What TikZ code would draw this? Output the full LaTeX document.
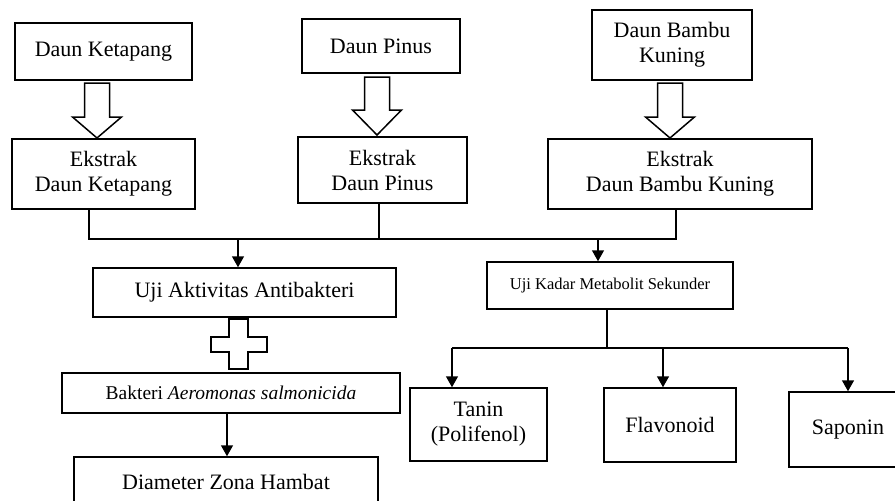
\documentclass[tikz,border=0pt]{standalone}
\usepackage{fontspec}
\setmainfont{Liberation Serif}
\usetikzlibrary{arrows.meta,positioning,calc}

% panah blok berongga: x tengah, y atas, y awal kepala, y ujung
\newcommand\blokpanah[4]{%
  \draw[blok] (#1-12.5,#2) -- (#1+12.5,#2) -- (#1+12.5,#3) -- (#1+24.5,#3)
    -- (#1,#4) -- (#1-24.5,#3) -- (#1-12.5,#3) -- cycle;}

\begin{document}
\begin{tikzpicture}[x=1pt,y=-1pt,
    kotak/.style={draw,line width=1.5pt,align=center,inner sep=0pt,
      font=\fontsize{22}{25}\selectfont},
    garis/.style={line width=1.5pt},
    panah/.style={line width=1.5pt,-{Triangle[length=11pt,width=12pt]}},
    blok/.style={line width=1.5pt,line join=miter,fill=white}]
                \useasboundingbox (0,0) rectangle (895,501);
                % bahan
                \node[kotak,minimum width=177pt,minimum height=57pt] (ketapang) at (103.5,51.5) {Daun Ketapang};
                \node[kotak,minimum width=158pt,minimum height=54pt] (pinus) at (381,46) {Daun Pinus};
                \node[kotak,minimum width=160pt,minimum height=70pt] (bambu) at (672,45) {Daun Bambu\\Kuning};
                % ekstrak
                \node[kotak,minimum width=183pt,minimum height=70pt] (ekketapang) at (103.5,174) {Ekstrak\\Daun Ketapang};
                \node[kotak,minimum width=169pt,minimum height=66pt] (ekpinus) at (382.5,170) {Ekstrak\\Daun Pinus};
                \node[kotak,minimum width=264pt,minimum height=70pt] (ekbambu) at (680,174) {Ekstrak\\Daun Bambu Kuning};
                \blokpanah{97}{83}{117}{138}
                \blokpanah{377}{77}{110}{135}
                \blokpanah{670}{83}{117}{138}
                % uji
                \node[kotak,minimum width=303pt,minimum height=49pt] (aktivitas) at (244.5,292.5) {Uji Aktivitas Antibakteri};
                \node[kotak,minimum width=246pt,minimum height=47pt,font=\fontsize{16.5}{19}\selectfont] (kadar) at (610,285.5) {Uji Kadar Metabolit Sekunder};
                \node[kotak,minimum width=338pt,minimum height=40pt,font=\fontsize{19.5}{22}\selectfont] (bakteri) at (231,393) {Bakteri \textit{Aeromonas salmonicida}};
                \node[kotak,minimum width=304pt,minimum height=50pt] (diameter) at (226,482) {Diameter Zona Hambat};
                \node[kotak,minimum width=137pt,minimum height=73pt] (tanin) at (478.5,424.5) {Tanin\\(Polifenol)};
                \node[kotak,minimum width=132pt,minimum height=74pt] (flavonoid) at (670,425) {Flavonoid};
                \node[kotak,minimum width=118pt,minimum height=75pt] (saponin) at (848,429.5) {Saponin};
                % tanda tambah
                \draw[blok] (229,319) -- (248,319) -- (248,337) -- (267,337) -- (267,352) -- (248,352)
                    -- (248,369) -- (229,369) -- (229,352) -- (211,352) -- (211,337) -- (229,337) -- cycle;
                % penghubung
                \coordinate (kiri) at (89,239);
                \coordinate (tengah) at (379,239);
                \coordinate (kanan) at (676,239);
                \coordinate (keaktivitas) at (238,239);
                \coordinate (kekadar) at (598,239);
                \draw[garis] (kiri |- ekketapang.south) -- (kiri) -- (kanan) -- (kanan |- ekbambu.south);
                \draw[garis] (tengah |- ekpinus.south) -- (tengah);
                \draw[panah] (keaktivitas) -- (keaktivitas |- aktivitas.north);
                \draw[panah] (kekadar) -- (kekadar |- kadar.north);
                \coordinate (cabang) at (607,348);
                \coordinate (ketanin) at (452,348);
                \coordinate (keflavonoid) at (663,348);
                \coordinate (kesaponin) at (848,348);
                \draw[garis] (cabang |- kadar.south) -- (cabang);
                \draw[garis] (ketanin) -- (kesaponin);
                \draw[panah] (ketanin) -- (ketanin |- tanin.north);
                \draw[panah] (keflavonoid) -- (keflavonoid |- flavonoid.north);
                \draw[panah] (kesaponin) -- (saponin.north);
                \coordinate (kediameter) at (227,413);
                \draw[panah] (kediameter) -- (kediameter |- diameter.north);
            \end{tikzpicture}
\end{document}
